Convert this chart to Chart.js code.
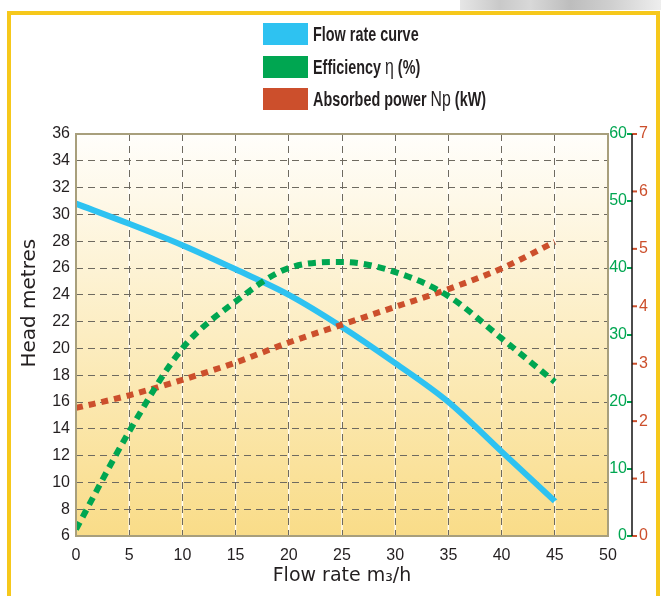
<!DOCTYPE html>
<html>
<head>
<meta charset="utf-8">
<script src="https://cdn.jsdelivr.net/npm/chart.js@4/dist/chart.umd.min.js"></script>
<style>
  html, body { margin: 0; padding: 0; background: #ffffff; }
  body { width: 661px; height: 596px; position: relative; overflow: hidden; }
  #topbar { position: absolute; left: 460px; top: 0; width: 201px; height: 10px;
    background: linear-gradient(90deg, #e6e6e6 0%, #c9c9c9 20%, #d8d8d8 35%, #bdbdbd 55%, #cfcfcf 75%, #eeeeee 100%); }
  #frame { position: absolute; left: 7px; top: 11px; width: 653px; height: 590px;
    box-sizing: border-box; border: 4px solid #f6c81b; }
  #wrap { position: absolute; left: 0; top: 0; width: 661px; height: 596px; }
  #legend { position: absolute; left: 263px; top: 23px; }
  .lg { display: flex; align-items: center; height: 22px; margin-bottom: 10.5px; }
  .sw { width: 45px; height: 22px; margin-right: 5px; flex: none; }
  .lt { font-family: 'Liberation Sans', Arial, sans-serif; font-weight: bold;
    font-size: 20px; color: #231f20; white-space: nowrap; display: inline-block;
    transform: scaleX(0.72); transform-origin: left center; }
  .lt .n { font-weight: normal; font-size: 22px; }
</style>
</head>
<body>
<div id="topbar"></div>
<div id="frame"></div>
<div id="wrap"><canvas id="c" width="661" height="596"></canvas></div>
<div id="legend"></div>
<script>
// ---- data ----
const flowRates = [0, 5, 10, 15, 20, 25, 30, 35, 40, 45];
const headMetres = [30.8, 29.3, 27.7, 25.9, 24.0, 21.6, 18.9, 16.0, 12.3, 8.6];
const efficiency = [1.0, 15.6, 28.0, 35.0, 40.0, 40.9, 39.4, 35.8, 29.5, 23.0];
const absorbedPower = [2.23, 2.45, 2.72, 3.02, 3.37, 3.68, 3.99, 4.30, 4.66, 5.12];
const seriesLabels = ['Flow rate curve', 'Efficiency \u03B7 (%)', 'Absorbed power Np (kW)'];
const xAxisTitle = 'Flow rate m\u2083/h';
const yAxisTitle = 'Head metres';

const BLUE = '#2ec2f1', GREEN = '#00a651', RED = '#cc4f2c';
const TICKFONT = "'Liberation Sans', Arial, sans-serif";
const toPts = (ys) => flowRates.map((x, i) => ({ x: x, y: ys[i] }));

const bgPlugin = {
  id: 'bg',
  beforeDraw(chart) {
    const { ctx, chartArea: a, scales } = chart;
    const g = ctx.createLinearGradient(0, a.top, 0, a.bottom);
    g.addColorStop(0, '#fffefb');
    g.addColorStop(1, '#f9dc88');
    ctx.save();
    ctx.fillStyle = g;
    ctx.fillRect(a.left, a.top, a.right - a.left, a.bottom - a.top);
    ctx.strokeStyle = 'rgba(255,255,255,0.9)';
    ctx.lineWidth = 1.5;
    scales.x.ticks.forEach(t => {
      const px = scales.x.getPixelForValue(t.value);
      if (px <= a.left + 1 || px >= a.right - 1) return;
      ctx.beginPath(); ctx.moveTo(px, a.top); ctx.lineTo(px, a.bottom); ctx.stroke();
    });
    ctx.restore();
  },
  afterDraw(chart) {
    const { ctx, chartArea: a, scales } = chart;
    ctx.save();
    ctx.strokeStyle = '#a89f7c';
    ctx.lineWidth = 2;
    ctx.strokeRect(a.left, a.top, a.right - a.left, a.bottom - a.top);
    const y1 = scales.y1, y2 = scales.y2;
    const axisX = y1.right + 5;
    // green tick marks (left of the shared axis line)
    ctx.strokeStyle = GREEN;
    ctx.lineWidth = 2;
    y1.ticks.forEach(t => {
      const py = y1.getPixelForValue(t.value);
      ctx.beginPath(); ctx.moveTo(y1.right, py); ctx.lineTo(axisX, py); ctx.stroke();
    });
    // red tick marks (right of the axis line)
    ctx.strokeStyle = RED;
    y2.ticks.forEach(t => {
      const py = y2.getPixelForValue(t.value);
      ctx.beginPath(); ctx.moveTo(axisX, py); ctx.lineTo(axisX + 5, py); ctx.stroke();
    });
    // shared axis line
    ctx.strokeStyle = '#111111';
    ctx.lineWidth = 1.5;
    ctx.beginPath(); ctx.moveTo(axisX, a.top); ctx.lineTo(axisX, a.bottom); ctx.stroke();
    ctx.restore();
  }
};

const chart = new Chart(document.getElementById('c'), {
  type: 'line',
  data: {
    datasets: [
      { label: seriesLabels[0], data: toPts(headMetres), yAxisID: 'y', borderColor: BLUE, backgroundColor: BLUE,
        borderWidth: 6, cubicInterpolationMode: 'monotone', pointRadius: 0, order: 2 },
      { label: seriesLabels[1], data: toPts(efficiency), yAxisID: 'y1', borderColor: GREEN, backgroundColor: GREEN,
        borderWidth: 6, borderDash: [8, 6], cubicInterpolationMode: 'monotone', pointRadius: 0, order: 0 },
      { label: seriesLabels[2], data: toPts(absorbedPower), yAxisID: 'y2', borderColor: RED, backgroundColor: RED,
        borderWidth: 6, borderDash: [7, 6], cubicInterpolationMode: 'monotone', pointRadius: 0, order: 1 }
    ]
  },
  options: {
    responsive: false,
    animation: false,
    layout: { padding: { top: 134, left: 0, right: 0, bottom: 0 } },
    plugins: { legend: { display: false }, tooltip: { enabled: false } },
    scales: {
      x: {
        type: 'linear', min: 0, max: 50,
        ticks: { stepSize: 5, color: '#231f20', font: { family: TICKFONT, size: 16 }, padding: 10 },
        grid: { color: '#6e6a60', lineWidth: 1, drawTicks: false, tickLength: 0 },
        border: { display: false, dash: [7, 5] },
        title: { display: true, text: xAxisTitle, color: '#231f20',
                 font: { family: 'DejaVu Sans', size: 19 }, padding: { top: 0, bottom: 9 } },
        afterFit(s) { s.height = 60; }
      },
      y: {
        type: 'linear', position: 'left', min: 6, max: 36,
        ticks: { stepSize: 2, color: '#231f20', font: { family: TICKFONT, size: 16 }, padding: 6 },
        grid: { color: '#6e6a60', lineWidth: 1, drawTicks: false, tickLength: 0 },
        border: { display: false, dash: [7, 5] },
        title: { display: true, text: '          ' + yAxisTitle, color: '#231f20',
                 font: { family: 'DejaVu Sans', size: 20 }, padding: { top: 18, bottom: 0 } },
        afterFit(s) { s.width = 76; }
      },
      y1: {
        type: 'linear', position: 'right', min: 0, max: 60,
        ticks: { stepSize: 10, color: GREEN, font: { family: TICKFONT, size: 16 }, padding: 1, crossAlign: 'far' },
        grid: { drawOnChartArea: false, drawTicks: false, tickLength: 0 },
        border: { display: false },
        afterFit(s) { s.width = 19; }
      },
      y2: {
        type: 'linear', position: 'right', min: 0, max: 7,
        ticks: { stepSize: 1, color: RED, font: { family: TICKFONT, size: 16 }, padding: 12 },
        grid: { drawOnChartArea: false, drawTicks: false, tickLength: 0 },
        border: { display: false },
        afterFit(s) { s.width = 34; }
      }
    }
  },
  plugins: [bgPlugin]
});

// HTML legend built from the chart's datasets
const lg = document.getElementById('legend');
chart.data.datasets.forEach(ds => {
  const row = document.createElement('div'); row.className = 'lg';
  const sw = document.createElement('div'); sw.className = 'sw'; sw.style.background = ds.borderColor;
  const tx = document.createElement('span'); tx.className = 'lt';
  ds.label.split(/(\u03B7|Np)/).forEach(part => {
    if (!part) return;
    if (part === '\u03B7' || part === 'Np') {
      const s = document.createElement('span'); s.className = 'n'; s.textContent = part; tx.appendChild(s);
    } else {
      tx.appendChild(document.createTextNode(part));
    }
  });
  row.appendChild(sw); row.appendChild(tx); lg.appendChild(row);
});
</script>
</body>
</html>
